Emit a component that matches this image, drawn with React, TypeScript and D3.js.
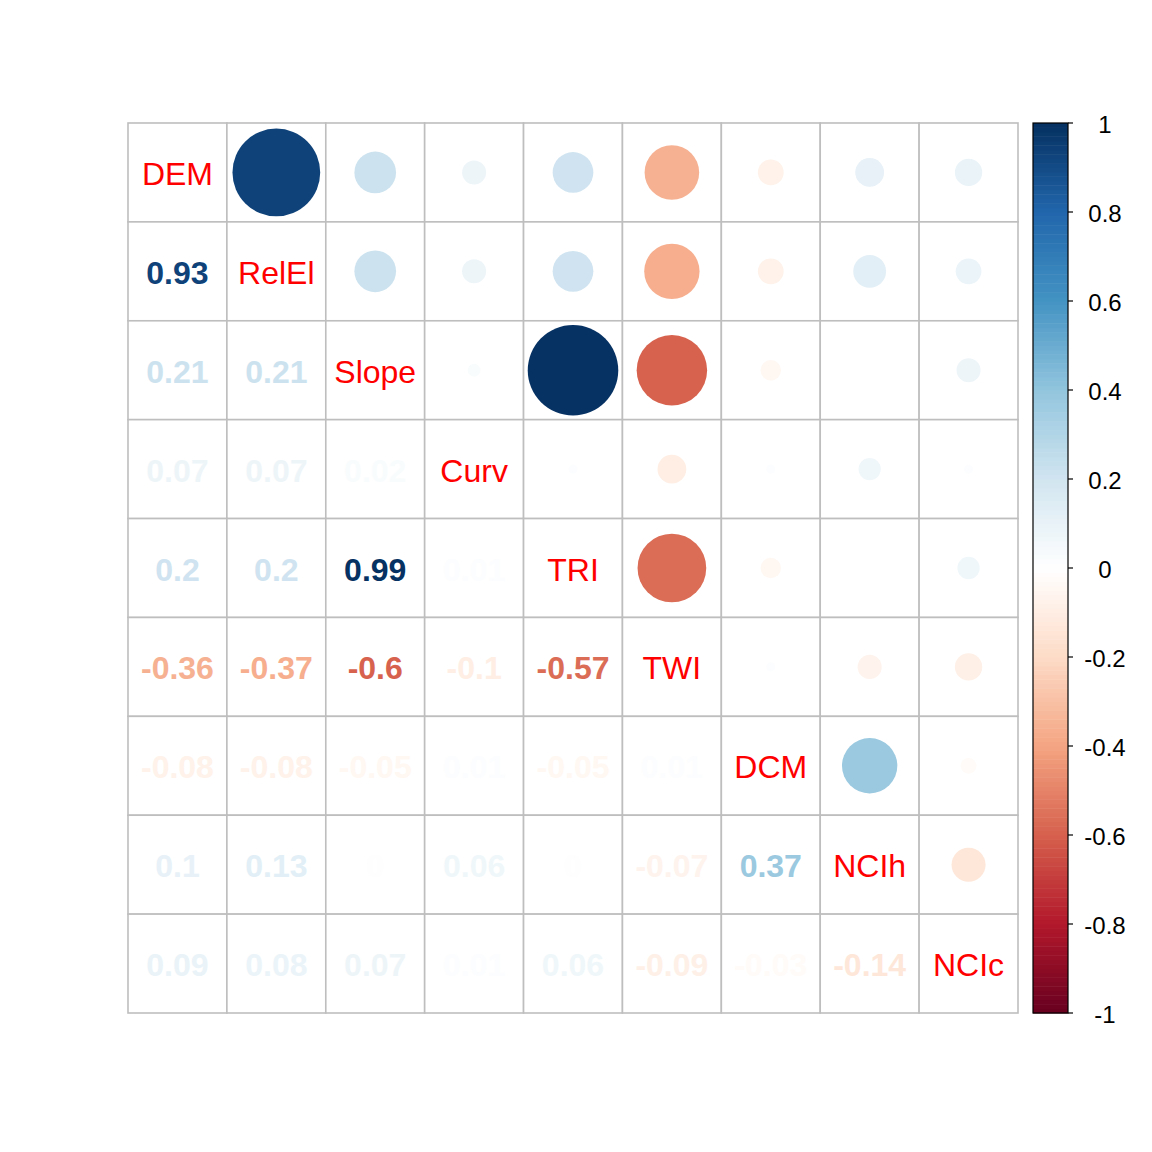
import React, { useEffect, useRef } from "react";
import * as d3 from "d3";

const variables = ["DEM", "RelEl", "Slope", "Curv", "TRI", "TWI", "DCM", "NCIh", "NCIc"];

// lower-triangle correlations (row i, columns 0..i-1)
const rowDEM: number[] = [];
const rowRelEl = [0.93];
const rowSlope = [0.21, 0.21];
const rowCurv = [0.07, 0.07, 0.02];
const rowTRI = [0.2, 0.2, 0.99, 0.01];
const rowTWI = [-0.36, -0.37, -0.6, -0.1, -0.57];
const rowDCM = [-0.08, -0.08, -0.05, 0.01, -0.05, 0.01];
const rowNCIh = [0.1, 0.13, 0, 0.06, 0, -0.07, 0.37];
const rowNCIc = [0.09, 0.08, 0.07, 0.01, 0.06, -0.09, -0.03, -0.14];
const lowerRows = [rowDEM, rowRelEl, rowSlope, rowCurv, rowTRI, rowTWI, rowDCM, rowNCIh, rowNCIc];

const colorbarTicks = [1, 0.8, 0.6, 0.4, 0.2, 0, -0.2, -0.4, -0.6, -0.8, -1];
const paletteStops = ["#67001F", "#B2182B", "#D6604D", "#F4A582", "#FDDBC7", "#FFFFFF", "#D1E5F0", "#92C5DE", "#4393C3", "#2166AC", "#053061"];

const FONT = "'Liberation Sans', Arial, Helvetica, sans-serif";

export default function App() {
  const ref = useRef<SVGSVGElement>(null);
  useEffect(() => {
    const svg = d3.select(ref.current);
    svg.selectAll("*").remove();
    const n = variables.length;
    const corr = (i: number, j: number) => (i === j ? 1 : i > j ? lowerRows[i][j] : lowerRows[j][i]);

    const colorScale = d3
      .scaleLinear<string>()
      .domain(d3.range(paletteStops.length).map((k) => -1 + (2 * k) / (paletteStops.length - 1)))
      .range(paletteStops)
      .interpolate(d3.interpolateRgb);
    const color = (v: number) => {
      const bin = Math.min(199, Math.floor(((v + 1) / 2) * 200));
      return colorScale(-1 + (bin + 0.5) / 100);
    };

    const x = d3.scaleBand<string>().domain(variables).range([128, 1018]);
    const y = d3.scaleBand<string>().domain(variables).range([123, 1013]);
    const bw = x.bandwidth();

    const g = svg.append("g");
    for (let i = 0; i < n; i++) {
      for (let j = 0; j < n; j++) {
        g.append("rect")
          .attr("x", x(variables[j])!)
          .attr("y", y(variables[i])!)
          .attr("width", bw)
          .attr("height", bw)
          .attr("fill", "white")
          .attr("stroke", "#BEBEBE")
          .attr("stroke-width", 1.6);
      }
    }
    for (let i = 0; i < n; i++) {
      for (let j = 0; j < n; j++) {
        const cx = x(variables[j])! + bw / 2;
        const cy = y(variables[i])! + bw / 2;
        if (i === j) {
          g.append("text")
            .attr("x", cx)
            .attr("y", cy + 1.5)
            .attr("text-anchor", "middle")
            .attr("dominant-baseline", "central")
            .attr("font-family", FONT)
            .attr("font-size", 32)
            .attr("fill", "red")
            .text(variables[i]);
        } else if (i > j) {
          const v = corr(i, j);
          g.append("text")
            .attr("x", cx)
            .attr("y", cy + 1.5)
            .attr("text-anchor", "middle")
            .attr("dominant-baseline", "central")
            .attr("font-family", FONT)
            .attr("font-weight", "bold")
            .attr("font-size", 32)
            .attr("fill", color(v))
            .text(String(v));
        } else {
          const v = corr(i, j);
          if (v !== 0) {
            g.append("circle")
              .attr("cx", cx)
              .attr("cy", cy)
              .attr("r", Math.sqrt(Math.abs(v)) * bw * 0.46)
              .attr("fill", color(v));
          }
        }
      }
    }

    // colorbar
    const cbX = 1033, cbW = 35;
    const cy = d3.scaleLinear().domain([-1, 1]).range([1013, 123]);
    const bins = d3.range(200);
    svg
      .append("g")
      .selectAll("rect")
      .data(bins)
      .join("rect")
      .attr("x", cbX)
      .attr("y", (b) => cy(-1 + ((b + 1) * 2) / 200))
      .attr("width", cbW)
      .attr("height", (b) => cy(-1 + (b * 2) / 200) - cy(-1 + ((b + 1) * 2) / 200) + 0.5)
      .attr("fill", (b) => color(-1 + (b + 0.5) / 100));
    svg
      .append("rect")
      .attr("x", cbX)
      .attr("y", 123)
      .attr("width", cbW)
      .attr("height", 890)
      .attr("fill", "none")
      .attr("stroke", "black")
      .attr("stroke-width", 1.2);
    const tg = svg.append("g");
    colorbarTicks.forEach((t) => {
      tg.append("line")
        .attr("x1", cbX + cbW)
        .attr("x2", cbX + cbW + 5)
        .attr("y1", cy(t))
        .attr("y2", cy(t))
        .attr("stroke", "black")
        .attr("stroke-width", 1.2);
      tg.append("text")
        .attr("x", 1105)
        .attr("y", cy(t) + 1)
        .attr("text-anchor", "middle")
        .attr("dominant-baseline", "central")
        .attr("font-family", FONT)
        .attr("font-size", 24)
        .attr("fill", "black")
        .text(String(t));
    });
  }, []);
  return (
    <svg
      ref={ref}
      width={1152}
      height={1152}
      style={{ position: "absolute", left: 0, top: 0, background: "white" }}
    />
  );
}
